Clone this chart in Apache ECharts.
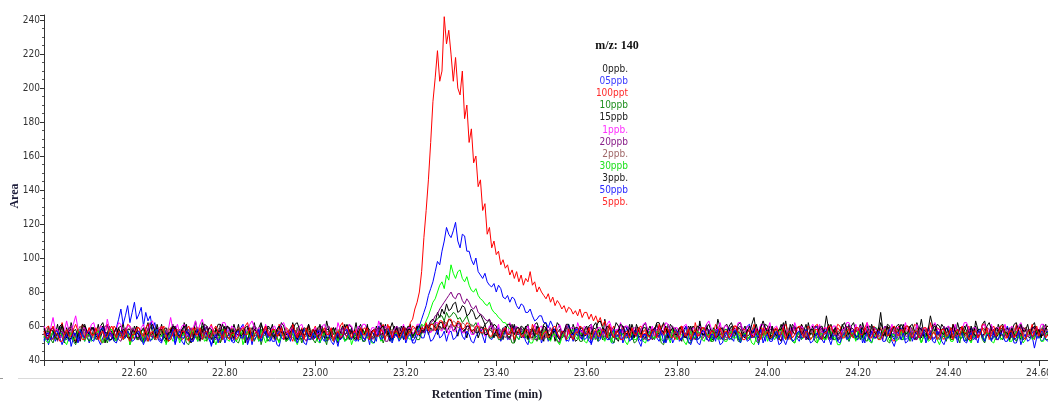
<!DOCTYPE html>
<html><head><meta charset="utf-8">
<script src="https://cdn.jsdelivr.net/npm/echarts@6/dist/echarts.min.js"></script>
<style>html,body{margin:0;padding:0;background:#fff}#c{width:1048px;height:403px}</style>
</head><body><div id="c"></div>
<script>
// sampling grid of the chromatogram (minutes)
const timeStart = 22.40;
const timeStep = 0.005;

const seriesNames = ['0ppb.', '05ppb', '100ppt', '10ppb', '15ppb', '1ppb.', '20ppb', '2ppb.', '30ppb', '3ppb.', '50ppb', '5ppb.'];
const seriesColors = ['#000000', '#0000ff', '#ff0000', '#008000', '#000000', '#ff00ff', '#800080', '#a06060', '#00ff00', '#000000', '#0000ff', '#ff0000'];
const legendColors = ['#222222', '#3a3aff', '#ff2a2a', '#1f8f1f', '#222222', '#ff30ff', '#8a208a', '#a06868', '#20e020', '#222222', '#2a2aff', '#ff2a2a'];

const yTicks = [40, 60, 80, 100, 120, 140, 160, 180, 200, 220, 240];
const xTickLabels = ['22.60', '22.80', '23.00', '23.20', '23.40', '23.60', '23.80', '24.00', '24.20', '24.40', '24.60'];

// one row = 0.1 min (20 samples), rows start at 22.40, 22.50, ... 24.50; last 5 = 24.600..24.620
const ppb0 = [
58,54,60,52,57, 55,61,53,56,50, 59,54,62,57,53, 58,51,56,60,54,
57,52,59,55,61, 53,58,50,56,60, 54,57,52,59,55, 62,53,57,51,58,
55,60,53,57,50, 58,62,54,56,52, 59,55,61,53,57, 51,58,54,60,56,
53,58,55,61,52, 57,54,63,56,51, 58,55,60,53,57, 50,59,54,61,55,
60,53,57,52,58, 55,61,54,56,50, 59,53,57,62,55, 52,58,56,60,54,
56,61,52,58,54, 60,55,51,57,53, 62,56,59,54,52, 58,55,61,57,53,
58,52,56,60,54, 63,57,53,59,55, 50,57,54,61,56, 52,59,55,62,54,
53,58,55,61,52, 57,54,60,56,62, 53,58,55,51,57, 60,54,59,56,52,
59,55,61,53,57, 60,54,58,56,61, 55,59,57,62,55, 60,58,63,56,59,
61,57,59,54,60, 56,58,53,60,57, 55,59,53,57,58, 61,55,59,62,56,
54,58,57,52,60, 55,56,61,50,55, 58,53,55,59,61, 54,53,58,57,52,
57,61,62,55,55, 59,51,56,58,53, 54,60,60,55,56, 51,52,58,59,54,
55,60,61,54,53, 58,57,52,64,57, 54,59,58,53,51, 56,60,55,56,61,
52,57,58,53,55, 60,62,56,57,52, 53,58,59,55,56, 51,61,57,54,59,
57,53,51,58,60, 55,55,60,58,53, 63,56,54,59,57, 52,52,58,59,55,
56,60,61,55,54, 59,58,52,52,57, 60,54,55,61,65, 56,53,58,57,61,
60,55,54,58,58, 53,51,57,63,55, 56,61,59,54,53, 59,57,52,62,56,
55,60,59,53,52, 57,66,58,56,52, 60,55,54,61,58, 53,61,56,53,59,
57,52,62,57,55, 60,59,54,53,58, 68,57,56,61,60, 54,54,59,58,55,
61,56,55,60,58, 53,52,57,64,56, 57,53,54,59,60, 55,56,61,59,54,
53,59,58,54,62, 57,55,60,57,52, 51,57,60,54,56, 61,63,55,54,58,
58,53,55,60,61, 56,53,58,57,52, 60,55,52,57,59, 54,55,60,62,56,
56,53,58,61,54];
const ppb05 = [
52,56,49,54,57, 51,55,60,53,51, 54,57,48,53,56, 50,53,57,51,55,
50,54,55,58,52, 49,53,56,55,51, 53,57,59,64,70, 61,66,72,62,68,
74,64,67,71,60, 68,63,66,58,62, 54,51,50,56,57, 53,52,56,49,54,
55,51,49,56,58, 52,53,55,51,57, 56,60,52,55,48, 53,55,50,57,52,
53,57,58,51,50, 54,55,59,61,53, 52,56,49,55,56, 51,53,58,55,52,
51,56,55,49,48, 54,57,52,53,56, 60,54,52,58,55, 50,49,55,56,52,
54,58,50,53,57, 51,52,56,59,53, 48,55,55,51,53, 57,58,52,51,55,
56,51,52,55,49, 57,55,51,60,54, 53,57,57,52,50, 55,54,59,58,53,
52,56,55,50,50, 54,57,53,53,58, 56,51,52,55,58, 53,54,57,51,56,
57,52,53,56,59, 54,52,57,55,51, 50,54,56,58,54, 50,58,53,52,55,
55,59,51,54,57, 52,53,56,60,54, 52,57,56,51,49, 55,58,53,54,57,
50,54,56,51,53, 57,58,54,52,56, 55,51,61,55,51, 56,54,58,57,52,
53,57,49,54,56, 51,52,57,58,53, 54,50,50,56,57, 52,53,56,60,55,
52,55,56,51,48, 54,55,58,53,57, 59,53,51,55,56, 50,54,57,50,53,
57,51,53,56,60, 54,51,57,55,50, 49,54,56,52,58, 55,52,57,54,49,
50,54,55,59,53, 51,58,54,52,56, 56,60,61,55,53, 57,49,55,55,51,
58,53,52,56,55, 49,50,54,57,53, 54,58,59,53,51, 55,56,52,53,57,
54,59,60,55,52, 50,56,53,49,54, 55,51,53,57,58, 54,51,56,57,52,
52,56,55,50,58, 53,50,55,56,52, 53,58,60,55,54, 51,48,53,56,59,
55,50,51,56,57, 53,53,57,59,54, 52,58,55,51,50, 55,57,53,54,59,
58,54,53,57,50, 55,56,51,52,57, 59,54,54,50,57, 53,51,56,55,52,
53,58,57,53,52, 55,60,56,55,50, 50,54,56,52,53, 57,58,54,47,53,
55,51,52,56,57];
const ppt100 = [
55,59,60,53,52, 57,58,54,62,56, 53,59,58,55,51, 57,56,61,53,55,
59,55,54,58,57, 51,50,56,61,57, 55,60,58,54,53, 57,56,61,60,55,
52,57,57,53,55, 59,61,56,53,58, 58,54,56,60,51, 57,59,55,54,58,
57,52,53,58,60, 56,55,59,52,57, 58,53,54,58,61, 56,56,52,50,55,
58,54,55,59,52, 57,59,54,56,60, 62,57,53,58,57, 52,54,58,60,55,
53,58,57,52,61, 56,54,59,58,54, 51,56,56,52,59, 55,55,60,52,57,
60,55,54,59,57, 52,52,56,59,54, 55,60,62,56,53, 58,56,52,58,54,
54,58,59,53,52, 57,57,54,55,59, 61,56,56,60,53, 57,58,54,55,60,
58,55,62,64,70, 74,80,92,112,128, 146,168,192,206,222, 204,210,242,226,234,
220,204,218,200,196, 210,182,190,168,176, 156,160,142,146,128, 132,114,118,106,110,
102,104,96,99,94, 96,90,93,88,92, 86,90,84,88,86, 92,84,86,80,83,
80,78,76,79,74, 77,72,75,73,70, 72,68,71,70,67, 69,66,70,65,68,
68,64,67,63,66, 62,65,60,63,58, 61,57,60,55,58, 54,59,56,53,57,
58,55,54,59,60, 55,56,52,52,57, 59,54,55,60,61, 56,53,58,57,52,
55,59,60,55,53, 58,57,52,62,57, 54,59,58,53,51, 56,56,61,59,54,
52,56,57,53,55, 60,60,55,54,58, 58,52,53,57,61, 56,56,60,54,58,
59,54,53,58,57, 52,55,59,61,56, 52,57,58,54,56, 61,54,57,60,55,
56,60,61,56,54, 59,58,53,52,57, 57,61,60,55,55, 59,59,54,53,57,
58,53,54,59,62, 57,56,60,53,58, 59,55,55,60,57, 52,51,56,60,55,
54,59,58,53,56, 61,60,55,53,58, 57,52,62,57,55, 59,58,54,52,56,
57,52,61,56,54, 59,59,54,55,60, 52,57,58,53,56, 61,61,56,54,58,
60,56,55,59,58, 53,53,57,57,52, 61,56,54,58,59, 54,56,61,52,57,
58,54,55,59,60];
const ppb10 = [
53,57,57,52,50, 55,55,59,59,53, 52,56,56,51,49, 54,54,58,58,53,
51,55,56,52,53, 57,59,54,50,55, 55,51,52,56,57, 53,54,58,49,53,
56,52,52,57,58, 53,51,55,55,59, 53,58,57,52,50, 55,54,58,59,54,
52,56,55,50,49, 54,57,53,53,58, 60,55,51,56,56, 52,54,58,50,55,
57,53,53,58,55, 51,50,54,58,53, 52,56,56,51,54, 58,49,54,55,51,
53,57,58,53,51, 55,56,52,52,56, 55,51,59,55,50, 54,54,58,57,52,
50,54,55,59,53, 49,57,53,51,55, 54,58,56,52,52, 57,58,54,53,57,
55,51,51,56,57, 53,53,58,59,55, 50,54,55,59,52, 57,56,52,54,58,
53,56,57,53,55, 52,52,56,56,59, 58,61,61,63,64, 66,66,63,68,65,
66,68,67,64,65, 62,64,66,62,60, 60,62,58,57,55, 58,57,53,53,56,
56,52,52,55,58, 53,54,50,50,55, 55,59,57,53,53, 56,59,55,51,55,
54,58,57,52,52, 56,56,51,50,54, 55,59,58,54,53, 57,55,51,51,56,
57,53,53,57,55, 51,59,55,52,57, 56,52,50,55,54, 58,57,53,53,57,
55,50,51,55,56, 52,53,57,58,54, 52,56,55,50,49, 54,57,53,54,58,
52,56,57,53,54, 50,50,55,56,52, 53,57,59,55,55, 51,51,56,56,52,
54,58,58,53,52, 56,55,51,51,56, 57,53,53,57,56, 51,50,55,55,59,
57,53,53,57,56, 52,59,55,52,57, 55,51,50,55,57, 52,54,58,52,56,
55,51,50,55,57, 52,53,57,56,52, 52,56,58,53,54, 58,51,55,56,52,
53,57,57,52,51, 55,55,59,59,54, 53,57,56,51,50, 55,55,59,57,52,
52,56,55,51,58, 53,53,57,50,54, 56,52,54,58,57, 53,52,56,55,51,
56,52,52,57,54, 50,58,54,51,55, 55,59,53,57,57, 52,50,55,56,52,
54,58,58,53,52, 56,55,51,57,53, 51,55,56,52,53, 57,58,53,54,58,
53,57,56,52,52];
const ppb15 = [
57,53,52,58,59, 54,55,60,61,56, 53,57,58,53,50, 55,56,61,60,56,
54,59,59,55,56, 60,62,57,52,56, 57,52,55,59,60, 56,53,58,58,54,
60,56,55,51,52, 56,58,62,56,52, 61,56,54,58,59, 55,57,61,52,56,
58,54,62,58,55, 50,53,57,59,55, 56,61,60,56,52, 57,57,61,61,57,
55,60,58,54,61, 56,54,58,57,53, 52,56,59,54,55, 59,62,57,56,60,
59,55,53,57,57, 62,60,55,55,59, 61,57,52,56,58, 54,56,61,54,58,
57,53,61,57,53, 58,58,54,55,59, 52,56,60,55,56, 61,59,55,54,58,
61,57,55,59,58, 54,53,57,59,55, 56,61,54,58,62, 57,57,53,60,56,
56,60,59,55,55, 59,60,56,57,61, 60,63,64,62,68, 65,70,67,73,69,
70,73,74,68,69, 72,71,66,67,70, 68,64,65,67,64, 61,62,64,58,61,
60,55,55,59,58, 54,53,57,61,56, 56,60,59,54,54, 58,57,61,62,58,
55,51,59,55,52, 56,57,62,60,56, 54,59,58,53,61, 57,56,60,53,57,
59,55,56,60,62, 58,54,59,58,54, 52,56,57,62,60, 56,55,60,58,54,
61,57,55,59,58, 54,53,57,60,56, 57,61,54,58,62, 58,56,61,59,55,
54,58,60,55,56, 60,58,54,52,56, 61,57,57,61,55, 51,59,55,64,59,
58,54,53,57,60, 56,56,61,62,57, 54,58,57,53,59, 55,55,60,61,57,
55,60,59,54,53, 57,61,57,57,53, 54,59,60,56,56, 61,58,54,52,56,
60,55,56,60,58, 53,54,58,61,57, 57,52,53,58,59, 54,55,60,62,57,
57,61,53,57,60, 56,55,59,58,54, 62,58,54,59,59, 55,56,60,61,57,
55,59,60,56,57, 52,62,58,53,57, 58,54,56,60,61, 57,54,58,59,55,
60,56,55,59,58, 53,53,57,61,56, 57,53,63,58,55, 59,58,54,56,60,
56,52,61,57,54, 58,59,55,57,61, 62,57,55,59,58, 54,53,58,60,56,
57,53,61,57,55];
const ppb1 = [
60,56,55,59,65, 58,58,54,53,57, 63,57,56,61,66, 59,54,58,59,55,
57,61,62,56,55, 60,59,55,64,58, 53,57,58,62,61, 56,56,60,60,55,
58,54,54,59,61, 56,57,62,63,57, 55,59,59,54,53, 58,65,58,57,61,
56,60,61,56,54, 58,59,63,57,61, 64,58,55,59,60, 56,53,57,58,62,
62,58,56,60,59, 55,54,58,60,56, 57,61,63,59,55, 59,58,54,61,57,
55,59,60,56,57, 61,62,58,54,58, 59,55,56,60,61, 57,58,54,53,57,
59,55,56,60,61, 57,54,58,58,54, 62,58,55,59,57, 61,60,56,56,60,
57,61,61,57,55, 59,59,55,63,59, 56,60,58,54,54, 58,60,56,57,61,
55,59,59,55,57, 61,61,57,56,60, 60,56,58,62,62, 58,57,61,59,55,
61,57,57,61,60, 56,56,60,59,55, 55,59,62,58,58, 54,56,60,60,56,
57,61,54,58,59, 55,62,58,56,60, 58,54,53,57,60, 56,57,61,55,59,
60,56,56,60,58, 54,54,58,61,57, 57,61,55,59,59, 55,62,58,56,60,
58,54,61,57,55, 59,59,55,57,61, 63,59,54,58,58, 62,56,60,60,56,
55,59,59,55,57, 61,62,58,56,60, 54,58,60,56,58, 62,61,57,55,59,
59,55,56,60,61, 57,55,59,58,54, 60,56,57,61,63, 59,54,58,58,62,
56,60,60,56,54, 58,58,62,62,58, 56,60,59,55,55, 59,57,61,61,57,
58,62,55,59,60, 56,57,61,54,58, 59,55,62,58,56, 60,58,54,55,59,
61,57,57,61,55, 59,59,55,56,60, 60,56,54,58,58, 62,62,58,57,61,
56,60,59,55,62, 58,55,59,58,54, 54,58,60,56,57, 61,55,59,59,55,
58,62,55,59,57, 53,61,57,54,58, 59,55,56,60,62, 58,58,54,55,59,
60,56,57,61,54, 58,58,62,62,58, 55,59,59,55,56, 60,61,57,57,61,
55,59,59,55,57, 61,54,58,60,56, 56,60,62,58,58, 54,55,59,59,55,
57,61,61,57,58];
const ppb20 = [
56,52,53,57,59, 55,51,56,57,53, 54,59,60,56,55, 51,52,56,58,54,
54,58,58,53,52, 56,56,60,60,55, 53,57,57,52,51, 55,59,55,55,59,
57,53,52,56,55, 51,59,55,53,58, 56,52,51,56,58, 54,54,59,60,56,
53,57,57,53,55, 59,51,56,58,54, 54,58,60,56,56, 52,52,57,57,53,
55,59,59,55,52, 56,57,53,54,58, 50,54,56,60,59, 55,53,57,58,54,
57,53,54,58,60, 56,55,51,52,56, 58,54,54,58,57, 53,51,55,56,52,
53,57,58,54,55, 59,60,56,52,56, 56,52,59,55,54, 58,57,53,53,57,
58,54,52,56,56, 52,54,58,59,55, 55,51,51,56,57, 53,60,56,54,58,
55,59,58,54,53, 57,57,61,56,60, 60,62,63,66,67, 70,72,74,76,78,
80,77,76,79,79, 75,73,76,74,71, 70,72,68,67,66, 64,63,64,61,59,
58,55,54,58,57, 53,52,56,59,55, 55,59,53,57,58, 54,56,52,52,56,
57,53,53,57,59, 55,55,51,51,55, 56,60,58,54,54, 58,57,53,53,57,
55,59,59,55,52, 56,57,53,54,58, 60,56,56,52,53, 57,58,54,55,59,
58,54,54,58,57, 53,52,56,56,52, 59,55,53,57,57, 53,55,59,60,56,
53,57,57,53,55, 59,59,55,52,56, 56,52,54,58,58, 54,57,53,53,57,
56,52,52,56,58, 54,55,59,60,56, 53,57,57,53,54, 58,51,55,58,54,
54,58,58,54,56, 52,52,56,57,53, 55,59,59,55,53, 57,56,52,54,58,
57,53,53,57,59, 55,56,52,54,58, 58,54,52,56,56, 60,59,55,55,59,
55,59,59,55,54, 58,57,53,53,57, 56,52,60,56,55, 59,58,54,52,56,
58,54,54,58,56, 52,52,56,59,55, 55,59,57,53,53, 57,56,52,60,56,
53,57,57,53,55, 59,59,55,54,58, 58,54,52,56,57, 53,55,59,58,54,
56,52,52,56,58, 54,55,59,53,57, 57,53,60,56,54, 58,57,53,55,59,
54,58,58,54,56];
const ppb2 = [
54,57,58,55,56, 53,52,56,59,56, 55,52,57,54,53, 57,60,57,56,53,
57,54,53,56,59, 56,56,53,54,57, 58,55,52,55,57, 54,55,58,59,56,
55,58,59,56,53, 56,57,54,55,52, 52,55,58,55,56, 59,53,56,57,54,
58,55,54,57,57, 54,53,56,59,56, 56,53,52,55,58, 55,55,58,60,57,
53,56,57,54,55, 58,59,56,52,55, 56,59,58,55,54, 57,57,54,55,58,
56,53,52,55,58, 55,55,58,57,54, 53,56,59,56,56, 53,54,57,58,55,
55,58,59,56,54, 57,56,53,53,56, 58,55,55,58,57, 54,52,55,56,53,
58,55,54,57,57, 54,52,55,56,59, 59,56,54,57,58, 55,56,59,53,56,
57,54,55,58,59, 56,56,59,58,61, 60,57,58,61,61, 58,59,62,62,59,
60,63,62,59,59, 62,61,58,58,61, 60,57,57,60,59, 56,56,59,58,55,
55,58,58,55,53, 56,57,54,55,58, 59,56,54,57,56, 53,52,55,58,55,
56,59,53,56,58, 55,55,58,57,54, 54,57,59,56,53, 56,57,54,55,58,
58,55,55,58,53, 56,57,54,56,59, 52,55,58,55,55, 58,59,56,54,57,
56,53,59,56,54, 57,57,54,53,56, 58,55,55,58,56, 53,52,55,57,54,
55,58,58,55,56, 59,53,56,59,56, 55,52,57,54,54, 57,58,55,56,59,
57,54,53,56,58, 55,56,59,54,57, 57,54,52,55,59, 56,55,58,57,54,
53,56,57,54,55, 58,58,55,56,59, 53,56,58,55,55, 58,57,54,59,56,
58,55,55,58,53, 56,57,54,59,56, 54,57,56,53,58, 55,53,56,56,59,
56,59,58,55,55, 58,53,56,57,54, 55,58,59,56,54, 57,57,54,55,58,
54,57,57,54,59, 56,56,59,55,58, 58,55,53,56,57, 54,55,58,58,55,
57,54,54,57,56, 59,59,56,53,56, 56,53,58,55,55, 58,59,56,53,56,
55,58,58,55,54, 57,57,54,56,59, 53,56,57,54,59, 56,54,57,57,54,
56,59,54,57,58];
const ppb30 = [
54,51,50,54,57, 53,52,56,55,51, 49,53,56,52,53, 57,58,54,51,55,
55,51,52,56,57, 53,50,54,54,58, 58,54,51,55,56, 52,53,57,49,53,
57,53,53,57,50, 54,56,52,52,56, 58,54,54,58,49, 53,55,51,52,56,
50,54,56,52,53, 57,58,54,51,55, 55,51,52,56,57, 53,49,53,54,58,
56,52,51,55,55, 51,53,57,49,53, 57,53,52,56,55, 51,58,54,50,54,
53,57,57,53,50, 54,55,51,52,56, 56,52,49,53,54, 58,57,53,52,56,
55,51,50,54,56, 52,53,57,58,54, 51,55,55,51,52, 56,49,53,56,52,
52,56,57,53,54, 50,50,54,55,51, 53,57,58,54,51, 55,56,52,53,57,
56,53,52,55,55, 58,58,61,60,63, 66,70,74,76,80, 84,86,82,90,87,
96,91,88,92,93, 88,86,89,84,81, 80,82,78,76,75, 73,72,74,70,68,
67,65,64,62,62, 60,58,57,55,54, 52,55,57,54,53, 50,50,54,56,52,
53,57,57,53,51, 55,55,51,49,53, 56,52,53,57,58, 54,52,56,55,51,
50,54,56,52,53, 57,57,53,51,55, 54,50,58,54,52, 56,55,51,49,53,
56,52,52,56,55, 51,50,54,57,53, 53,57,56,52,51, 55,54,50,58,54,
52,56,55,51,49, 53,57,53,53,57, 56,52,51,55,55, 51,58,54,52,56,
55,51,51,55,57, 53,53,57,50,54, 56,52,54,50,49, 53,57,53,53,57,
51,55,56,52,53, 57,58,54,52,56, 55,51,50,54,57, 53,53,57,56,52,
54,58,50,54,56, 52,52,57,57,53, 53,49,49,53,56, 52,52,56,55,51,
57,53,52,56,55, 51,50,54,56,52, 53,57,58,54,51, 55,55,51,53,57,
52,56,56,52,53, 57,57,53,50,54, 55,51,52,56,56, 52,49,53,57,53,
55,51,51,55,57, 53,53,57,56,52, 50,54,54,58,58, 54,52,56,55,51,
50,54,56,52,53, 57,55,51,51,55, 57,53,54,50,52, 56,56,52,53,57,
55,51,51,55,56];
const ppb3 = [
59,55,54,58,57, 53,52,56,60,56, 56,52,53,57,58, 54,55,59,61,57,
55,59,58,54,53, 57,60,56,56,52, 52,56,59,55,54, 58,57,53,53,57,
57,53,53,57,59, 55,55,59,61,57, 54,58,58,54,52, 56,56,60,59,55,
54,58,60,56,56, 52,53,57,57,53, 62,58,55,59,58, 54,53,57,57,61,
56,60,59,55,53, 57,58,54,55,59, 60,56,54,58,57, 53,61,57,55,59,
58,54,54,58,60, 56,56,52,53,57, 57,61,62,58,55, 59,58,54,54,58,
55,59,60,56,57, 53,53,57,59,55, 56,52,54,58,61, 57,57,53,52,56,
59,55,56,60,53, 57,58,54,55,59, 60,56,57,53,52, 56,59,55,56,60,
54,58,58,54,56, 60,60,57,57,61, 59,61,61,59,58, 62,62,58,60,64,
63,60,59,62,61, 58,57,60,60,57, 58,56,56,59,59, 55,55,58,57,53,
58,54,53,57,57, 61,61,57,55,59, 59,55,56,60,52, 56,58,54,60,56,
56,60,59,55,54, 58,58,54,52,56, 57,61,61,57,55, 59,59,55,54,58,
60,56,55,59,58, 62,63,59,56,60, 59,55,53,57,57, 61,60,56,55,59,
57,53,61,57,55, 59,59,55,54,58, 58,62,62,58,56, 60,53,57,59,55,
55,59,58,54,53, 57,60,56,56,60, 59,55,55,59,61, 57,57,53,54,58,
59,55,56,60,62, 58,55,59,58,54, 53,57,60,56,57, 61,55,59,63,59,
56,52,60,56,54, 58,58,62,56,52, 61,57,55,59,59, 55,57,61,54,58,
58,54,55,59,60, 56,57,61,53,57, 59,55,56,60,62, 58,55,59,58,54,
54,58,59,55,57, 53,61,57,55,59, 58,54,56,60,53, 57,60,56,57,61,
59,55,56,60,61, 57,55,59,58,54, 54,58,66,60,57, 61,60,56,55,59,
57,53,61,57,55, 59,59,55,56,52, 60,56,54,58,58, 54,56,60,62,58,
55,59,58,54,60, 56,56,52,59,55, 54,58,61,57,57, 61,55,59,59,55,
58,54,55,59,60];
const ppb50 = [
51,55,56,52,53, 57,57,53,49,53, 55,51,52,56,55, 51,58,54,53,57,
56,52,51,55,54, 58,59,55,52,56, 55,51,50,54,57, 53,53,57,55,51,
52,56,57,53,49, 53,55,51,53,57, 58,54,51,55,56, 52,54,58,50,54,
57,53,53,57,55, 51,51,55,58,54, 52,56,56,52,49, 53,55,51,53,57,
50,54,55,51,52, 56,57,53,53,57, 49,53,56,52,54, 58,51,55,57,53,
55,51,51,55,57, 53,52,56,55,51, 58,54,50,54,54, 58,56,52,52,56,
53,57,57,53,51, 55,55,51,49,53, 56,52,53,57,58, 54,52,56,55,51,
57,53,52,56,55, 51,50,54,56,52, 53,57,59,55,51, 55,55,51,53,57,
50,54,55,51,53, 57,60,64,68,72, 78,82,86,92,98, 96,104,110,118,114,
112,116,121,110,106, 114,113,104,104,99, 96,100,92,90,88, 91,86,84,83,85,
80,84,82,77,76, 78,74,77,76,72, 70,73,72,68,68, 70,66,63,64,66,
66,62,62,59,63, 60,57,55,53,57, 56,52,51,55,55, 58,58,54,52,56,
55,51,50,54,57, 53,53,57,56,52, 52,56,58,54,54, 58,50,54,55,51,
53,57,57,53,51, 55,55,51,52,56, 58,54,54,58,50, 54,56,52,53,57,
57,53,52,56,55, 51,49,53,56,52, 53,57,57,53,51, 55,55,51,58,54,
52,56,56,52,53, 57,57,53,50,54, 55,51,52,56,58, 54,54,58,50,54,
55,51,51,55,57, 53,56,52,49,53, 55,51,52,56,57, 53,54,58,54,50,
51,55,56,52,53, 57,58,54,52,56, 55,51,50,54,56, 52,53,57,57,53,
54,58,50,54,56, 52,57,53,53,57, 55,51,51,55,58, 54,52,56,56,52,
56,52,53,57,51, 55,57,53,54,58, 50,54,56,52,53, 57,55,51,49,53,
53,57,57,53,52, 56,55,51,50,54, 56,52,53,57,58, 54,51,55,55,51,
57,53,52,56,55, 51,51,55,56,52, 53,57,49,53,55, 51,52,56,57,53,
53,57,56,52,51];
const ppb5 = [
57,53,53,57,60, 56,55,51,51,55, 58,54,54,58,61, 57,56,52,52,56,
59,55,55,59,52, 56,57,53,54,58, 60,56,53,57,56, 52,58,54,51,55,
55,59,59,55,54, 58,51,55,57,53, 53,57,60,56,55, 51,52,56,58,54,
53,57,57,53,51, 55,59,55,55,59, 52,56,57,53,54, 58,60,56,56,52,
58,54,52,56,56, 52,54,58,59,55, 55,59,51,55,57, 53,53,57,60,56,
54,58,58,54,55, 59,52,56,57,53, 61,57,53,57,56, 52,59,55,54,58,
57,53,52,56,59, 55,55,59,51,55, 57,53,54,58,60, 56,53,57,56,52,
59,55,55,59,52, 56,58,54,54,58, 56,52,61,57,53, 57,57,53,55,59,
52,56,56,60,59, 55,55,59,58,62, 57,61,61,57,60, 63,63,59,61,64,
64,60,60,63,62, 58,59,62,61,57, 57,60,60,56,56, 59,58,54,54,58,
57,53,53,57,59, 55,55,59,52,56, 58,54,54,58,57, 53,61,57,55,59,
52,56,57,53,55, 59,60,56,53,57, 56,52,58,54,52, 56,56,60,59,55,
55,59,52,56,58, 54,54,58,57,53, 60,56,53,57,56, 52,52,56,57,53,
59,55,55,59,53, 57,58,54,54,58, 57,53,61,57,55, 59,58,54,53,57,
56,52,60,56,54, 58,52,56,58,54, 55,59,59,55,53, 57,57,53,55,59,
53,57,57,53,55, 59,60,56,56,52, 52,56,58,54,54, 58,56,52,59,55,
57,53,54,58,59, 55,55,59,52,56, 57,53,55,59,60, 56,53,57,56,52,
54,58,58,54,52, 56,56,60,60,56, 55,59,57,53,53, 57,58,54,55,59,
59,55,55,59,57, 53,53,57,56,52, 52,56,58,54,55, 59,60,56,54,58,
56,60,60,56,53, 57,57,53,55,59, 59,55,52,56,56, 52,54,58,58,54,
55,59,52,56,58, 54,60,56,56,52, 53,57,57,53,55, 59,55,59,52,56,
58,54,56,60,60, 56,53,57,57,53, 55,59,58,54,52, 56,58,54,56,60,
54,58,57,53,55];

const seriesValues = [ppb0, ppb05, ppt100, ppb10, ppb15, ppb1, ppb20, ppb2, ppb30, ppb3, ppb50, ppb5];

const chart = echarts.init(document.getElementById('c'), null, {renderer: 'canvas'});
const labelFont = "'Liberation Sans Narrow', 'Arial Narrow', 'DejaVu Sans Condensed', sans-serif";
const serifFont = "'Liberation Serif', 'Times New Roman', serif";

const series = seriesValues.map((vals, k) => ({
  name: seriesNames[k],
  type: 'line',
  showSymbol: false,
  symbol: 'none',
  animation: false,
  lineStyle: {width: 1, color: seriesColors[k]},
  itemStyle: {color: seriesColors[k]},
  data: vals.map((v, i) => [Math.round((timeStart + i * timeStep) * 1000) / 1000, v])
}));

const graphics = [
  {type: 'text', x: 15, y: 196, rotation: Math.PI / 2,
   style: {text: 'Area', font: 'bold 12px ' + serifFont, fill: '#1c1c3a', textAlign: 'center', textVerticalAlign: 'middle'}},
  {type: 'text', x: 487, y: 395,
   style: {text: 'Retention Time (min)', font: 'bold 12px ' + serifFont, fill: '#1c1c2a', textAlign: 'center', textVerticalAlign: 'middle'}},
  {type: 'text', x: 617, y: 46,
   style: {text: 'm/z: 140', font: 'bold 12px ' + serifFont, fill: '#111', textAlign: 'center', textVerticalAlign: 'middle'}},
  {type: 'line', shape: {x1: 18, y1: 378.5, x2: 1048, y2: 378.5}, style: {stroke: '#dadada', lineWidth: 1}},
  {type: 'line', shape: {x1: 0, y1: 378.5, x2: 3, y2: 378.5}, style: {stroke: '#999', lineWidth: 1}}
];
seriesNames.forEach((n, k) => {
  graphics.push({type: 'text', x: 628, y: 69.5 + k * 12.1,
    style: {text: n, font: '10px ' + labelFont, fill: legendColors[k], textAlign: 'right', textVerticalAlign: 'middle'}});
});

chart.setOption({
  animation: false,
  backgroundColor: '#ffffff',
  grid: {left: 44, right: 0, top: 15, bottom: 43, containLabel: false, outerBoundsMode: 'none'},
  xAxis: {
    type: 'value', min: 22.40, max: 24.62, interval: 0.2,
    axisLine: {show: true, lineStyle: {color: '#333', width: 1}},
    axisTick: {show: true, length: 6, lineStyle: {color: '#333'}},
    minorTick: {show: true, splitNumber: 5, length: 3, lineStyle: {color: '#333'}},
    splitLine: {show: false},
    axisLabel: {
      margin: 8, fontSize: 10, fontFamily: labelFont, color: '#333', hideOverlap: false,
      formatter: v => {
        const s = Number(v).toFixed(2);
        return xTickLabels.indexOf(s) >= 0 ? s : '';
      }
    }
  },
  yAxis: {
    type: 'value', min: 40, max: 243, interval: 20,
    axisLine: {show: true, lineStyle: {color: '#333', width: 1}},
    axisTick: {show: true, length: 4, lineStyle: {color: '#333'}},
    minorTick: {show: true, splitNumber: 4, length: 2, lineStyle: {color: '#555'}},
    splitLine: {show: false},
    axisLabel: {
      margin: 4, fontSize: 10, fontFamily: labelFont, color: '#333',
      formatter: v => (yTicks.indexOf(Math.round(v)) >= 0 && Math.abs(v - Math.round(v)) < 1e-6 ? String(Math.round(v)) : '')
    }
  },
  graphic: graphics,
  series: series
});
</script>
</body></html>
